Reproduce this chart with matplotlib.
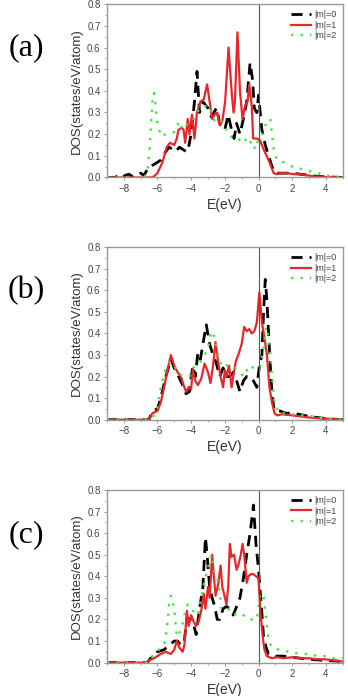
"""Projected DOS (|m|=0,1,2) for three configurations, stacked vertically."""

import matplotlib
matplotlib.use('Agg')
import matplotlib.pyplot as plt
from matplotlib.ticker import MultipleLocator

plt.rcParams['font.family'] = ['Liberation Sans', 'DejaVu Sans']

# ---- panel (a) ----
a_m0_E = [-9, -8.5, -8.3, -8.1, -7.9, -7.7, -7.5, -7.2, -7.0, -6.8, -6.5, -6.2, -5.8, -5.5, -5.3,
          -5.1, -4.9, -4.7, -4.5, -4.3, -4.2, -4.0, -3.8, -3.65, -3.5, -3.3, -3.0, -2.8, -2.5,
          -2.3, -2.0, -1.8, -1.6, -1.45, -1.3, -1.1, -0.9, -0.7, -0.5, -0.35, -0.25, -0.1, 0.0,
          0.2, 0.4, 0.6, 0.8, 1.0, 1.5, 2.0, 2.5, 3.0, 3.5, 4.0, 5.0]
a_m0 = [0, 0, 0.01, 0.0, 0.01, 0.015, 0.005, 0.01, 0.02, 0.01, 0.05, 0.06, 0.08, 0.12, 0.14,
        0.13, 0.12, 0.14, 0.13, 0.12, 0.12, 0.2, 0.35, 0.49, 0.3, 0.35, 0.32, 0.28, 0.32,
        0.25, 0.22, 0.29, 0.22, 0.18, 0.25, 0.2, 0.27, 0.35, 0.53, 0.45, 0.32, 0.3, 0.38,
        0.22, 0.15, 0.1, 0.05, 0.02, 0.02, 0.02, 0.015, 0.01, 0.005, 0.003, 0]

a_m1_E = [-9, -6.4, -6.2, -6.0, -5.7, -5.45, -5.25, -5.0, -4.85, -4.75, -4.55, -4.45, -4.35,
          -4.2, -4.1, -3.95, -3.8, -3.65, -3.45, -3.25, -3.05, -2.9, -2.75, -2.6, -2.45, -2.3,
          -2.15, -1.98, -1.78, -1.58, -1.48, -1.4, -1.25, -1.1, -0.95, -0.8, -0.65, -0.55,
          -0.4, -0.32, -0.1, 0.1, 0.3, 0.6, 0.9, 1.1, 1.3, 1.7, 2.1, 2.5, 2.9, 3.3, 4.0, 5.0]
a_m1 = [0, 0, 0.005, 0.02, 0.07, 0.14, 0.16, 0.15, 0.18, 0.22, 0.23, 0.22, 0.16,
        0.27, 0.2, 0.29, 0.18, 0.3, 0.35, 0.36, 0.43, 0.35, 0.27, 0.29, 0.3, 0.24,
        0.26, 0.35, 0.6, 0.38, 0.3, 0.35, 0.67, 0.4, 0.27, 0.33, 0.35, 0.43,
        0.33, 0.18, 0.18, 0.17, 0.13, 0.08, 0.02, 0.015, 0.02, 0.02, 0.015, 0.015, 0.01, 0.005, 0.002, 0]

a_m2_E = [-9, -6.8, -6.6, -6.45, -6.3, -6.2, -6.0, -5.8, -5.5, -5.0, -4.7, -4.5, -4.2, -3.9,
          -3.5, -3.2, -2.9, -2.6, -2.3, -2.0, -1.8, -1.5, -1.2, -0.9, -0.6, -0.4, -0.2, 0.0,
          0.2, 0.5, 0.7, 0.9, 1.1, 1.5, 2.0, 2.5, 3.0, 3.5, 4.0, 5.0]
a_m2 = [0, 0, 0.02, 0.15, 0.35, 0.39, 0.25, 0.19, 0.2, 0.21, 0.26, 0.22, 0.25, 0.26,
        0.32, 0.33, 0.33, 0.26, 0.27, 0.24, 0.2, 0.18, 0.17, 0.19, 0.15, 0.17, 0.13, 0.18,
        0.2, 0.26, 0.27, 0.13, 0.08, 0.07, 0.05, 0.04, 0.03, 0.02, 0.01, 0]

# ---- panel (b) ----
b_m0_E = [-9, -6.5, -6.3, -6.0, -5.8, -5.5, -5.2, -5.0, -4.8, -4.5, -4.3, -4.1, -3.9, -3.75,
          -3.6, -3.45, -3.3, -3.1, -2.9, -2.7, -2.5, -2.3, -2.1, -1.9, -1.7, -1.5, -1.3, -1.1,
          -0.9, -0.7, -0.5, -0.3, -0.1, 0.05, 0.2, 0.3, 0.4, 0.5, 0.6, 0.7, 0.8, 0.9, 1.0,
          1.3, 1.6, 2.0, 2.4, 3.0, 4.0, 5.0]
b_m0 = [0, 0, 0.04, 0.05, 0.1, 0.2, 0.28, 0.24, 0.21, 0.16, 0.12, 0.13, 0.25, 0.2,
        0.31, 0.28, 0.35, 0.44, 0.35, 0.3, 0.26, 0.2, 0.24, 0.2, 0.2, 0.22, 0.18, 0.13,
        0.18, 0.2, 0.2, 0.18, 0.15, 0.25, 0.3, 0.5, 0.65, 0.55, 0.4, 0.25, 0.12, 0.06, 0.04,
        0.04, 0.03, 0.03, 0.025, 0.015, 0.005, 0]

b_m1_E = [-9, -6.5, -6.3, -6.0, -5.8, -5.6, -5.4, -5.2, -5.0, -4.8, -4.6, -4.45, -4.3, -4.15,
          -4.0, -3.9, -3.75, -3.6, -3.4, -3.2, -3.0, -2.85, -2.7, -2.55, -2.4, -2.25, -2.1,
          -2.0, -1.9, -1.75, -1.6, -1.5, -1.35, -1.2, -1.0, -0.85, -0.7, -0.55, -0.4, -0.25,
          -0.1, 0.05, 0.2, 0.35, 0.5, 0.65, 0.8, 0.95, 1.1, 1.4, 2.0, 2.5, 3.0, 4.0, 5.0]
b_m1 = [0, 0, 0.03, 0.04, 0.08, 0.15, 0.23, 0.3, 0.25, 0.22, 0.2, 0.16, 0.13, 0.15,
        0.14, 0.23, 0.18, 0.16, 0.19, 0.26, 0.22, 0.17, 0.25, 0.36, 0.27, 0.2, 0.15,
        0.23, 0.2, 0.25, 0.15, 0.2, 0.27, 0.3, 0.35, 0.43, 0.41, 0.42, 0.4, 0.41,
        0.45, 0.59, 0.45, 0.38, 0.3, 0.15, 0.08, 0.03, 0.02, 0.025, 0.02, 0.015, 0.01, 0.005, 0]

b_m2_E = [-9, -6.4, -6.2, -6.0, -5.8, -5.5, -5.2, -5.0, -4.7, -4.4, -4.1, -3.8, -3.5, -3.2,
          -3.0, -2.8, -2.6, -2.4, -2.2, -2.0, -1.7, -1.4, -1.1, -0.9, -0.7, -0.5, -0.3, -0.1,
          0.1, 0.3, 0.45, 0.55, 0.7, 0.8, 0.95, 1.2, 1.6, 2.0, 2.5, 3.0, 3.5, 4.2, 5.0]
b_m2 = [0, 0, 0.02, 0.06, 0.15, 0.24, 0.27, 0.25, 0.21, 0.2, 0.2, 0.25, 0.26, 0.3,
        0.33, 0.41, 0.38, 0.3, 0.25, 0.26, 0.24, 0.24, 0.22, 0.2, 0.23, 0.22, 0.25, 0.24,
        0.25, 0.33, 0.43, 0.4, 0.3, 0.2, 0.08, 0.03, 0.03, 0.025, 0.02, 0.02, 0.01, 0.005, 0]

# ---- panel (c) ----
c_m0_E = [-9, -6.6, -6.3, -6.0, -5.6, -5.3, -5.0, -4.8, -4.6, -4.4, -4.25, -4.1, -3.9, -3.7,
          -3.5, -3.3, -3.15, -3.05, -2.9, -2.75, -2.6, -2.45, -2.3, -2.1, -1.9, -1.7, -1.5,
          -1.3, -1.1, -0.9, -0.7, -0.5, -0.3, -0.15, 0.0, 0.15, 0.3, 0.45, 0.6, 0.8, 1.0,
          1.5, 2.0, 3.0, 4.0, 5.0]
c_m0 = [0, 0, 0.03, 0.05, 0.06, 0.08, 0.1, 0.1, 0.08, 0.1, 0.21, 0.2, 0.19, 0.13,
        0.25, 0.35, 0.58, 0.5, 0.35, 0.3, 0.26, 0.2, 0.2, 0.25, 0.26, 0.25, 0.22,
        0.26, 0.3, 0.39, 0.5, 0.6, 0.73, 0.55, 0.43, 0.28, 0.12, 0.07, 0.04, 0.04, 0.03,
        0.03, 0.025, 0.015, 0.01, 0.005]

c_m1_E = [-9, -6.6, -6.5, -6.2, -5.8, -5.5, -5.2, -5.0, -4.85, -4.7, -4.5, -4.4, -4.25, -4.15,
          -4.0, -3.85, -3.7, -3.55, -3.4, -3.25, -3.15, -3.0, -2.9, -2.75, -2.65, -2.55,
          -2.4, -2.25, -2.15, -2.05, -1.9, -1.8, -1.7, -1.6, -1.45, -1.3, -1.2, -1.05, -0.95,
          -0.85, -0.7, -0.6, -0.45, -0.3, -0.15, 0.0, 0.1, 0.25, 0.35, 0.5, 0.8, 1.1, 1.5,
          2.0, 2.5, 3.0, 3.5, 4.0, 4.5, 5.0]
c_m1 = [0, 0, 0.01, 0.02, 0.04, 0.05, 0.04, 0.06, 0.1, 0.07, 0.05, 0.08, 0.24, 0.17,
        0.22, 0.19, 0.17, 0.19, 0.24, 0.32, 0.25, 0.35, 0.3, 0.5, 0.4, 0.31,
        0.36, 0.45, 0.35, 0.32, 0.27, 0.35, 0.55, 0.49, 0.5, 0.43, 0.45, 0.5, 0.55,
        0.5, 0.37, 0.4, 0.41, 0.41, 0.4, 0.39, 0.25, 0.12, 0.06, 0.03, 0.02, 0.025, 0.02,
        0.025, 0.02, 0.02, 0.015, 0.015, 0.01, 0.005]

c_m2_E = [-9, -6.6, -6.3, -5.9, -5.6, -5.45, -5.3, -5.2, -5.0, -4.85, -4.6, -4.4, -4.2, -4.0,
          -3.8, -3.6, -3.4, -3.2, -3.0, -2.8, -2.6, -2.4, -2.2, -2.0, -1.8, -1.5, -1.2, -0.9,
          -0.6, -0.3, -0.1, 0.1, 0.3, 0.45, 0.6, 0.8, 1.2, 1.8, 2.5, 3.0, 3.5, 4.0, 4.5, 5.0]
c_m2 = [0, 0, 0.03, 0.06, 0.08, 0.15, 0.28, 0.31, 0.25, 0.12, 0.15, 0.22, 0.27, 0.25,
        0.23, 0.22, 0.3, 0.38, 0.44, 0.5, 0.41, 0.38, 0.25, 0.24, 0.25, 0.22, 0.23, 0.22,
        0.2, 0.2, 0.2, 0.32, 0.31, 0.2, 0.1, 0.07, 0.06, 0.05, 0.04, 0.04, 0.03, 0.03, 0.02, 0.02]

panels = [
    ('(a)', (a_m0_E, a_m0), (a_m1_E, a_m1), (a_m2_E, a_m2)),
    ('(b)', (b_m0_E, b_m0), (b_m1_E, b_m1), (b_m2_E, b_m2)),
    ('(c)', (c_m0_E, c_m0), (c_m1_E, c_m1), (c_m2_E, c_m2)),
]
legend_labels = ['|m|=0', '|m|=1', '|m|=2']

# axes boxes in figure fractions: left, bottom, width, height
boxes = [
    (0.307, 0.745, 0.678, 0.249),
    (0.307, 0.397, 0.678, 0.248),
    (0.307, 0.048, 0.678, 0.248),
]
label_y = [0.932, 0.583, 0.232]

fig = plt.figure(figsize=(3.48, 6.96), dpi=100)
fig.patch.set_facecolor('white')

for (tag, m0, m1, m2), box, ly in zip(panels, boxes, label_y):
    ax = fig.add_axes(box)
    ax.plot(m0[0], m0[1], color='black', lw=2.0, ls=(0, (4, 2.5)), label=legend_labels[0])
    ax.plot(m1[0], m1[1], color='#e8262b', lw=1.6, ls='-', label=legend_labels[1])
    ax.plot(m2[0], m2[1], color='#3ee83e', lw=1.7, ls=(0, (1, 3)), label=legend_labels[2])
    ax.axvline(0, color='#555555', lw=0.8)

    ax.set_xlim(-9, 5)
    ax.set_ylim(0, 0.8)
    ax.xaxis.set_major_locator(MultipleLocator(2))
    ax.xaxis.set_minor_locator(MultipleLocator(1))
    ax.yaxis.set_major_locator(MultipleLocator(0.1))
    ax.yaxis.set_minor_locator(MultipleLocator(0.05))
    ax.tick_params(which='major', length=2.5, width=0.6, color='#888888',
                   labelsize=7, labelcolor='#444444', pad=2)
    ax.tick_params(which='minor', length=1.5, width=0.5, color='#888888')
    ax.set_yticklabels(['%.1f' % v for v in ax.get_yticks()])
    for sp in ax.spines.values():
        sp.set_color('#999999')
        sp.set_linewidth(1.0)

    ax.set_xlabel('E(eV)', fontsize=10, color='#333333', labelpad=3)
    ax.set_ylabel('DOS(states/eV/atom)', fontsize=9.5, color='#333333', labelpad=3)
    ax.legend(loc='upper right', frameon=False, fontsize=6.5, handlelength=2.2,
              handletextpad=0.4, labelspacing=0.15, borderaxespad=0.3,
              labelcolor='#444444')

    fig.text(0.075, ly, tag, fontsize=23, family='Liberation Serif',
             ha='center', va='center')

fig.savefig('out.png', dpi=100, facecolor='white')
